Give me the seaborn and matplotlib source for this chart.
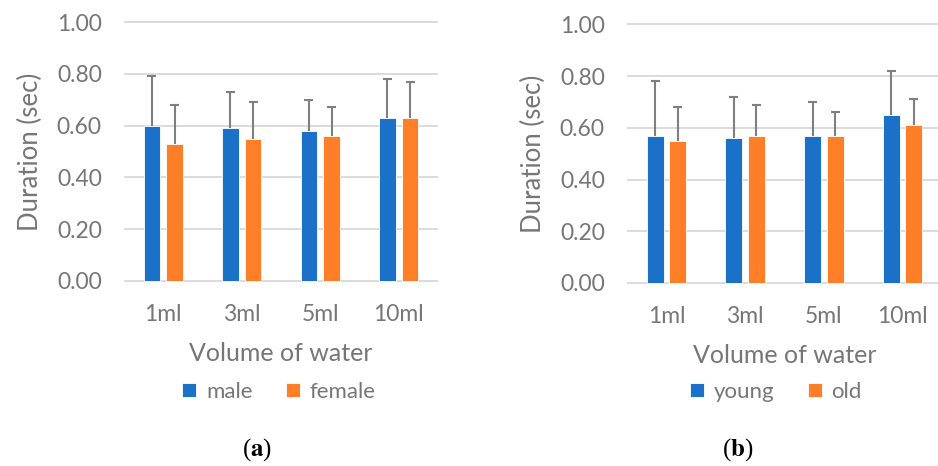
import matplotlib
matplotlib.use("Agg")
import matplotlib.pyplot as plt
import seaborn as sns
import pandas as pd
import numpy as np

volumes = ["1ml", "3ml", "5ml", "10ml"]

sex_levels = ["male", "female"]
male_mean = [0.60, 0.59, 0.58, 0.63]
male_err_top = [0.79, 0.73, 0.70, 0.78]
female_mean = [0.53, 0.55, 0.56, 0.63]
female_err_top = [0.68, 0.69, 0.67, 0.77]

age_levels = ["young", "old"]
young_mean = [0.57, 0.56, 0.57, 0.65]
young_err_top = [0.78, 0.72, 0.70, 0.82]
old_mean = [0.55, 0.57, 0.57, 0.61]
old_err_top = [0.68, 0.69, 0.66, 0.71]

yticks = [0.0, 0.2, 0.4, 0.6, 0.8, 1.0]

sns.set_theme(style="white")
plt.rcParams["font.family"] = ["Lato", "DejaVu Sans"]
plt.rcParams["mathtext.fontset"] = "stix"

BLUE = "#1B71C8"
ORANGE = "#FE7F27"
GRAY_TXT = "#767676"
GRID = "#D9D9D9"
ERR = "#7F7F7F"

fig = plt.figure(figsize=(9.38, 4.66), dpi=100)
W, H = 938, 466


def make_panel(rect, levels, means, tops, legend_x, panel_letter, letter_x):
    ax = fig.add_axes([rect[0] / W, 1 - rect[3] / H, (rect[2] - rect[0]) / W, (rect[3] - rect[1]) / H])
    rows = []
    for lev, m in zip(levels, means):
        for v, val in zip(volumes, m):
            rows.append({"Volume": v, "group": lev, "value": val})
    df = pd.DataFrame(rows)
    sns.barplot(data=df, x="Volume", y="value", hue="group", order=volumes,
                hue_order=levels, palette=[BLUE, ORANGE], width=0.575, gap=0.25,
                errorbar=None, ax=ax, edgecolor="white", linewidth=0.6, saturation=1)
    cap = 0.057
    for cont, tp in zip(ax.containers, tops):
        for bar, t in zip(cont, tp):
            xc = bar.get_x() + bar.get_width() / 2
            h = bar.get_height()
            ax.vlines(xc, h, t, color=ERR, linewidth=1.5, zorder=3)
            ax.hlines(t, xc - cap, xc + cap, color=ERR, linewidth=1.5, zorder=3)
    ax.set_ylim(-0.004, 1.004)
    ax.set_xlim(-0.5, 3.5)
    ax.set_yticks(yticks)
    ax.set_yticklabels([f"{t:.2f}" for t in yticks])
    ax.yaxis.grid(True, color=GRID, linewidth=1.3)
    ax.set_axisbelow(True)
    for s in ax.spines.values():
        s.set_visible(False)
    ax.tick_params(axis="both", length=0, colors=GRAY_TXT, labelsize=16.5)
    ax.tick_params(axis="x", pad=16)
    ax.tick_params(axis="y", pad=16)
    ax.set_xlabel("Volume of water", color=GRAY_TXT, fontsize=18, labelpad=12)
    ax.set_ylabel("Duration (sec)", color=GRAY_TXT, fontsize=18.5, labelpad=10)
    ax.legend(loc="center", bbox_to_anchor=(legend_x / W, 1 - 392 / H),
              bbox_transform=fig.transFigure, ncol=2, frameon=False,
              fontsize=16, handlelength=0.62, handleheight=0.62,
              handletextpad=0.45, columnspacing=1.5, labelcolor=GRAY_TXT)
    fig.text(letter_x / W, 1 - 450 / H, "($\\mathbf{" + panel_letter + "}$)",
             ha="center", va="center", fontsize=18, family="Liberation Serif", color="black")
    return ax


make_panel((124, 21, 438, 282), sex_levels, [male_mean, female_mean],
           [male_err_top, female_err_top], 279, "a", 257)
make_panel((627, 23.3, 942, 284), age_levels, [young_mean, old_mean],
           [young_err_top, old_err_top], 776, "b", 738)

fig.savefig("out.png", dpi=100)
